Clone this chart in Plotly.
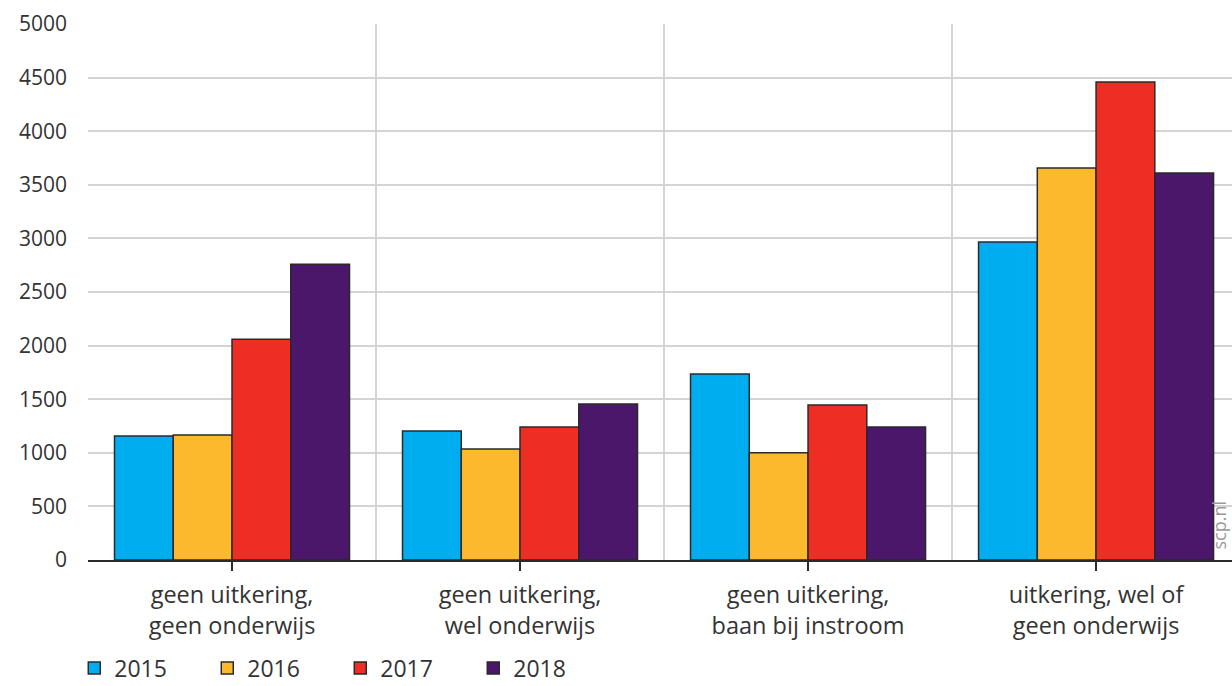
import plotly.graph_objects as go

categories = ["geen uitkering,<br>geen onderwijs", "geen uitkering,<br>wel onderwijs",
              "geen uitkering,<br>baan bij instroom", "uitkering, wel of<br>geen onderwijs"]
years = ["2015", "2016", "2017", "2018"]
values_2015 = [1157, 1203, 1735, 2966]
values_2016 = [1165, 1035, 1000, 3657]
values_2017 = [2060, 1240, 1445, 4459]
values_2018 = [2760, 1455, 1240, 3610]
series = [values_2015, values_2016, values_2017, values_2018]
colors = ["#00aeef", "#fdb92d", "#ee2e24", "#4a176b"]
y_ticks = [0, 500, 1000, 1500, 2000, 2500, 3000, 3500, 4000, 4500, 5000]

x_pos = list(range(len(categories)))

fig = go.Figure()
for name, vals, col in zip(years, series, colors):
    fig.add_trace(go.Bar(x=x_pos, y=vals, name=name,
                         marker=dict(color=col, line=dict(color="#2a2a2a", width=1.5))))

fig.update_layout(
    width=1232, height=686,
    margin=dict(l=88, r=0, t=24, b=126, autoexpand=False),
    plot_bgcolor="white", paper_bgcolor="white",
    barmode="group", bargap=0.184, bargroupgap=0,
    font=dict(family="Open Sans", color="#333333"),
    showlegend=True,
    legend=dict(orientation="h", x=-0.012, xanchor="left",
                yref="container", y=0.026, yanchor="middle",
                font=dict(size=23, color="#333333"),
                entrywidth=88, entrywidthmode="pixels", traceorder="normal"),
    annotations=[dict(text="scp.nl", xref="paper", yref="y", x=0.9885, y=330,
                      xanchor="center", yanchor="middle", textangle=-90,
                      showarrow=False, font=dict(size=18, color="#9a9a9a"))],
)
fig.update_xaxes(
    range=[-0.5, 3.472], tickmode="array", tickvals=x_pos, ticktext=categories,
    tickfont=dict(size=23.5, color="#333333"),
    showgrid=False, zeroline=False,
    showline=True, linecolor="#2a2a2a", linewidth=2,
    ticks="outside", ticklen=9, tickwidth=2, tickcolor="#2a2a2a",
    ticklabelstandoff=4,
    minor=dict(tick0=0.5, dtick=1, showgrid=True, gridcolor="#d4d4d4", gridwidth=2, ticks=""),
)
fig.update_yaxes(
    range=[0, 5000], tickmode="array", tickvals=y_ticks,
    tickfont=dict(size=21, color="#333333"),
    showgrid=True, gridcolor="#d4d4d4", gridwidth=2, zeroline=False,
    showline=False, ticks="", ticklabelstandoff=20,
)

fig.write_html("out.html", config={"displayModeBar": False},
               post_script="document.body.style.margin='0';document.body.style.overflow='hidden';")
